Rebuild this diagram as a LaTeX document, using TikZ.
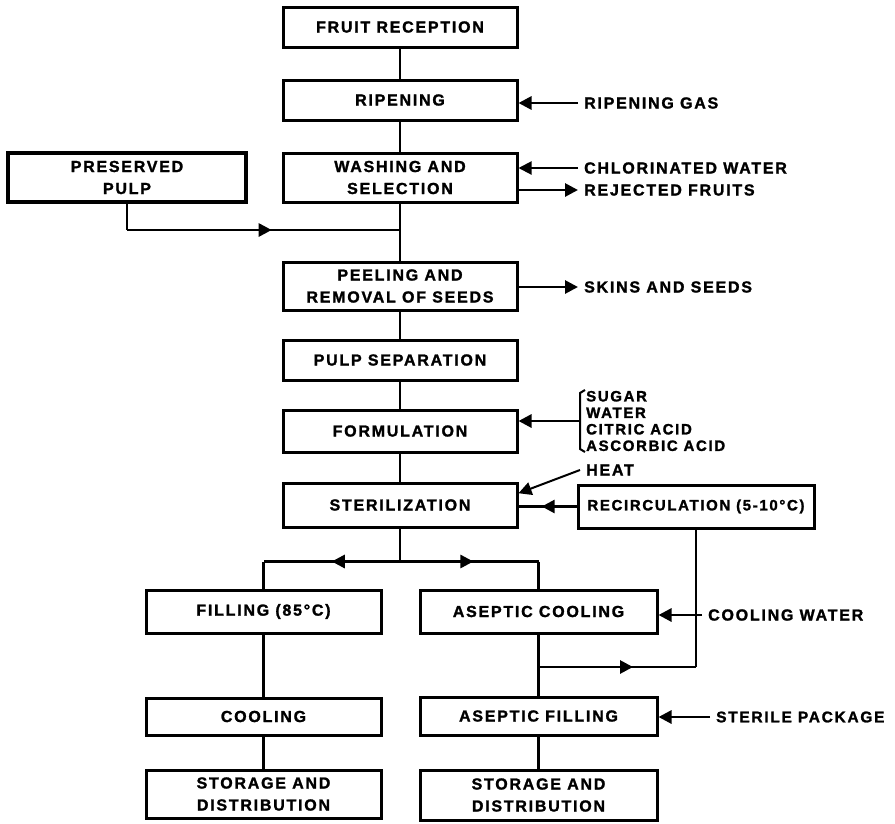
\documentclass[tikz,border=0pt]{standalone}
\usepackage{fontspec}
\setmainfont{Liberation Sans}[LetterSpace=11, FakeBold=1.5]
\usetikzlibrary{arrows.meta,decorations.markings,calc}
\begin{document}
\begin{tikzpicture}[x=1pt,y=-1pt,
  txt/.style={font=\fontsize{16pt}{22pt}\selectfont\bfseries},
  box/.style={txt, draw, line width=3pt, align=center, inner sep=0pt},
  lbl/.style={txt, anchor=west, inner xsep=6pt, inner ysep=0pt},
  inlbl/.style={font=\fontsize{15pt}{16.5pt}\selectfont\bfseries, anchor=west, inner xsep=6pt, inner ysep=0pt, align=left},
  conn/.style={line width=2.8pt},
  thinln/.style={line width=2pt},
  tip/.tip={Triangle[length=13pt,width=13pt]},
  arr/.style={conn, -tip},
  midarrow/.style={postaction={decorate}, decoration={markings, mark=at position #1 with {\arrow{tip}}}}
]
\useasboundingbox (0,0) rectangle (895,823);

% main column
\node[box, minimum width=234pt, minimum height=40pt] (fr) at (400,27) {FRUIT RECEPTION};
\node[box, minimum width=234pt, minimum height=40pt] (rip) at (400,100) {RIPENING};
\node[box, minimum width=234pt, minimum height=49pt] (wash) at (400,177.5) {WASHING AND\\SELECTION};
\node[box, minimum width=238pt, minimum height=49pt, line width=3.6pt] (pres) at (127,177.5) {PRESERVED\\PULP};
\node[box, minimum width=234pt, minimum height=48pt] (peel) at (400,286) {PEELING AND\\REMOVAL OF SEEDS};
\node[box, minimum width=234pt, minimum height=40pt] (pulp) at (400,360) {PULP SEPARATION};
\node[box, minimum width=234pt, minimum height=42pt] (form) at (400,431) {FORMULATION};
\node[box, minimum width=234pt, minimum height=44pt] (ster) at (400,505) {STERILIZATION};
\node[box, minimum width=236pt, minimum height=43pt, font=\fontsize{15pt}{20pt}\selectfont\bfseries] (recirc) at (696,506.5) {RECIRCULATION (5-10°C)};
\node[box, minimum width=235pt, minimum height=43pt] (fill) at (263.5,611.5) {FILLING (85°C)};
\node[box, minimum width=237pt, minimum height=43pt] (acool) at (538.5,611.5) {ASEPTIC COOLING};
\node[box, minimum width=235pt, minimum height=37pt] (cool) at (263.5,716.5) {COOLING};
\node[box, minimum width=237pt, minimum height=38pt] (afill) at (538.5,716) {ASEPTIC FILLING};
\node[box, minimum width=235pt, minimum height=48pt] (st1) at (263.5,794) {STORAGE AND\\DISTRIBUTION};
\node[box, minimum width=237pt, minimum height=50pt] (st2) at (538.5,795) {STORAGE AND\\DISTRIBUTION};

% side labels
\node[lbl] (gas) at (578,103) {RIPENING GAS};
\node[lbl] (chl) at (578,168) {CHLORINATED WATER};
\node[lbl] (rej) at (578,190) {REJECTED FRUITS};
\node[lbl] (skin) at (578,287) {SKINS AND SEEDS};
\node[inlbl] (inp) at (580,421) {SUGAR\\WATER\\CITRIC ACID\\ASCORBIC ACID};
\node[lbl] (heat) at (580,470) {HEAT};
\node[lbl] (cw) at (702,615) {COOLING WATER};
\node[lbl, font=\fontsize{15.5pt}{20pt}\selectfont\bfseries] (sp) at (710,717) {STERILE PACKAGE};

% main flow
\draw[conn] (fr) -- (rip);
\draw[conn] (rip) -- (wash);
\draw[conn] (wash) -- (peel);
\draw[conn] (peel) -- (pulp);
\draw[conn] (pulp) -- (form);
\draw[conn] (form) -- (ster);

% preserved pulp
\coordinate (j1) at (400,230);
\draw[conn] (pres.south) -- (pres.south |- j1);
\draw[conn, midarrow=0.53] (pres.south |- j1) -- (j1);

% side arrows
\draw[arr] (gas.west) -- (gas.west -| rip.east);
\draw[arr, thinln] (chl.west) -- (chl.west -| wash.east);
\draw[arr] (rej.west -| wash.east) -- (rej.west);
\draw[arr] (skin.west -| peel.east) -- (skin.west);

% formulation inputs bracket
\draw[thinln] ($(inp.west)+(5,-31)$) -- ($(inp.west)+(0,-28)$) -- ($(inp.west)+(0,28)$) -- ($(inp.west)+(5,31)$);
\draw[arr] (inp.west) -- (inp.west -| form.east);

% heat and recirculation
\draw[arr, thinln] (heat.west) -- ($(ster.north east)!0.25!(ster.south east)$);
\draw[conn, midarrow=0.6] (recirc.west) -- (recirc.west -| ster.east);

% branch
\coordinate (jb) at ($(ster.south)+(0,33)$);
\draw[conn] (ster.south) -- (jb);
\draw[conn, midarrow=0.5] (jb) -- (jb -| fill.north);
\draw[conn] (jb -| fill.north) -- (fill.north);
\draw[conn, midarrow=0.53] (jb) -- (jb -| acool.north);
\draw[conn] (jb -| acool.north) -- (acool.north);

% left branch
\draw[conn] (fill) -- (cool);
\draw[conn] (cool) -- (st1);

% right branch
\draw[conn] (acool) -- (afill);
\draw[conn] (afill) -- (st2);
\coordinate (j2) at (538.5,667);
\draw[conn, midarrow=0.6] (j2) -- (j2 -| recirc.south);
\draw[conn] (j2 -| recirc.south) -- (recirc.south);

% cooling water & sterile package
\draw[arr] (cw.west) -- (cw.west -| acool.east);
\draw[arr] (sp.west) -- (sp.west -| afill.east);
\end{tikzpicture}
\end{document}
